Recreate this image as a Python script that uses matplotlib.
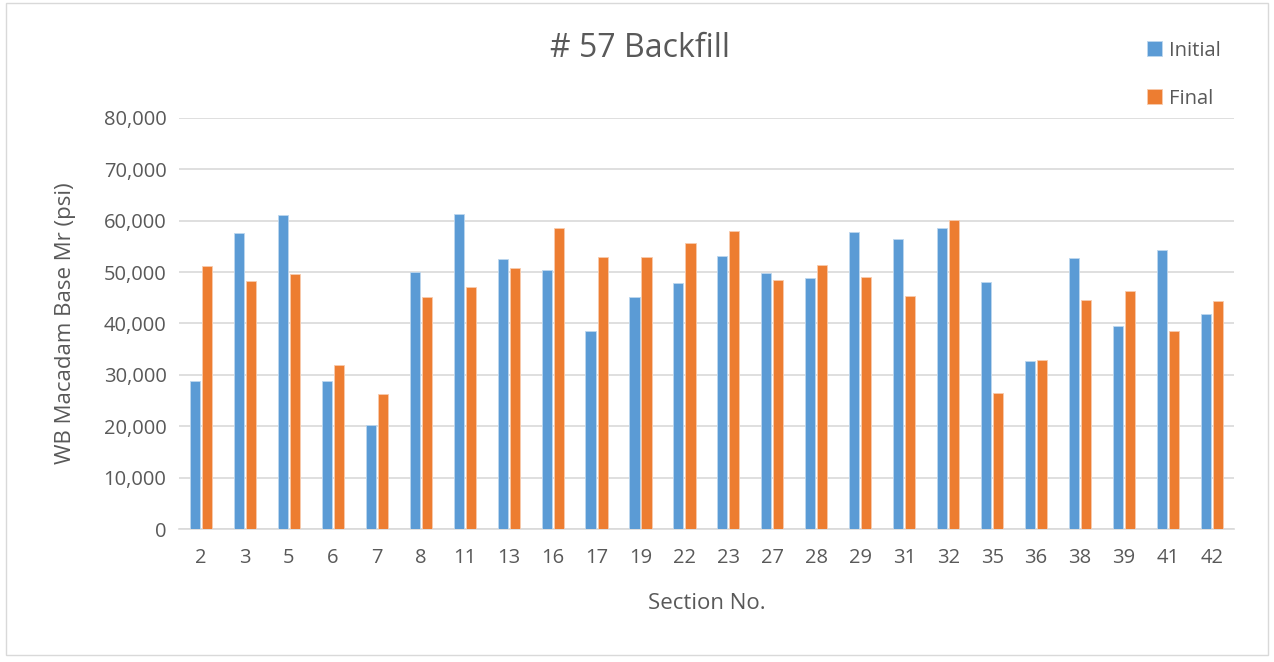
import matplotlib
matplotlib.use("Agg")
import matplotlib.pyplot as plt
from matplotlib.patches import Rectangle
from matplotlib.ticker import FuncFormatter
import numpy as np

plt.rcParams['font.family'] = ['Open Sans', 'DejaVu Sans']

sections = ["2", "3", "5", "6", "7", "8", "11", "13", "16", "17", "19", "22",
            "23", "27", "28", "29", "31", "32", "35", "36", "38", "39", "41", "42"]
initial = [28800, 57700, 61100, 28800, 20200, 50100, 61300, 52500, 50400, 38600,
           45100, 47800, 53100, 49900, 48800, 57800, 56400, 58600, 48100, 32700,
           52700, 39600, 54300, 41800]
final = [51200, 48300, 49600, 32000, 26200, 45100, 47100, 50800, 58600, 52900,
         52900, 55700, 58000, 48400, 51400, 49000, 45300, 60200, 26500, 32900,
         44500, 46300, 38600, 44300]

text_color = "#595959"
blue = "#5B9BD5"
orange = "#ED7D31"

fig = plt.figure(figsize=(12.74, 6.62), dpi=100)
ax = fig.add_axes([0.1405, 0.2009, 0.828, 0.6209])

x = np.arange(len(sections))
w = 0.23
off = 0.137
ax.bar(x - off, initial, w, color=blue, edgecolor="#BDD7EE", linewidth=0.6, label="Initial", zorder=3)
ax.bar(x + off, final, w, color=orange, edgecolor="#F8CBAD", linewidth=0.6, label="Final", zorder=3)

ax.set_xlim(-0.5, len(sections) - 0.5)
ax.set_ylim(0, 80000)
ax.set_yticks(np.arange(0, 80001, 10000))
ax.yaxis.set_major_formatter(FuncFormatter(lambda v, p: f"{int(v):,}"))
ax.set_xticks(x)
ax.set_xticklabels(sections)
ax.grid(axis="y", color="#D9D9D9", linewidth=1.2, zorder=0)
ax.set_axisbelow(True)
for s in ["top", "right", "left"]:
    ax.spines[s].set_visible(False)
ax.spines["bottom"].set_color("#D9D9D9")
ax.spines["bottom"].set_linewidth(1.2)
ax.tick_params(axis="both", length=0, labelsize=14.5, colors=text_color)
ax.tick_params(axis="x", pad=14)
ax.tick_params(axis="y", pad=9)

ax.set_xlabel("Section No.", fontsize=16, color=text_color, labelpad=18)
ax.set_ylabel("WB Macadam Base Mr (psi)", fontsize=16, color=text_color, labelpad=20)

fig.text(0.5025, 0.926, "# 57 Backfill", fontsize=23, color=text_color, ha="center", va="center")

fig.legend(loc="upper left", bbox_to_anchor=(0.886, 0.966), frameon=False,
           fontsize=14.5, labelcolor=text_color, handlelength=0.75, handleheight=0.75,
           handletextpad=0.35, labelspacing=1.4)

fig.patches.append(Rectangle((0.005, 0.01), 0.99, 0.985, transform=fig.transFigure,
                             fill=False, edgecolor="#D9D9D9", linewidth=1))

fig.savefig("out.png", dpi=100)
